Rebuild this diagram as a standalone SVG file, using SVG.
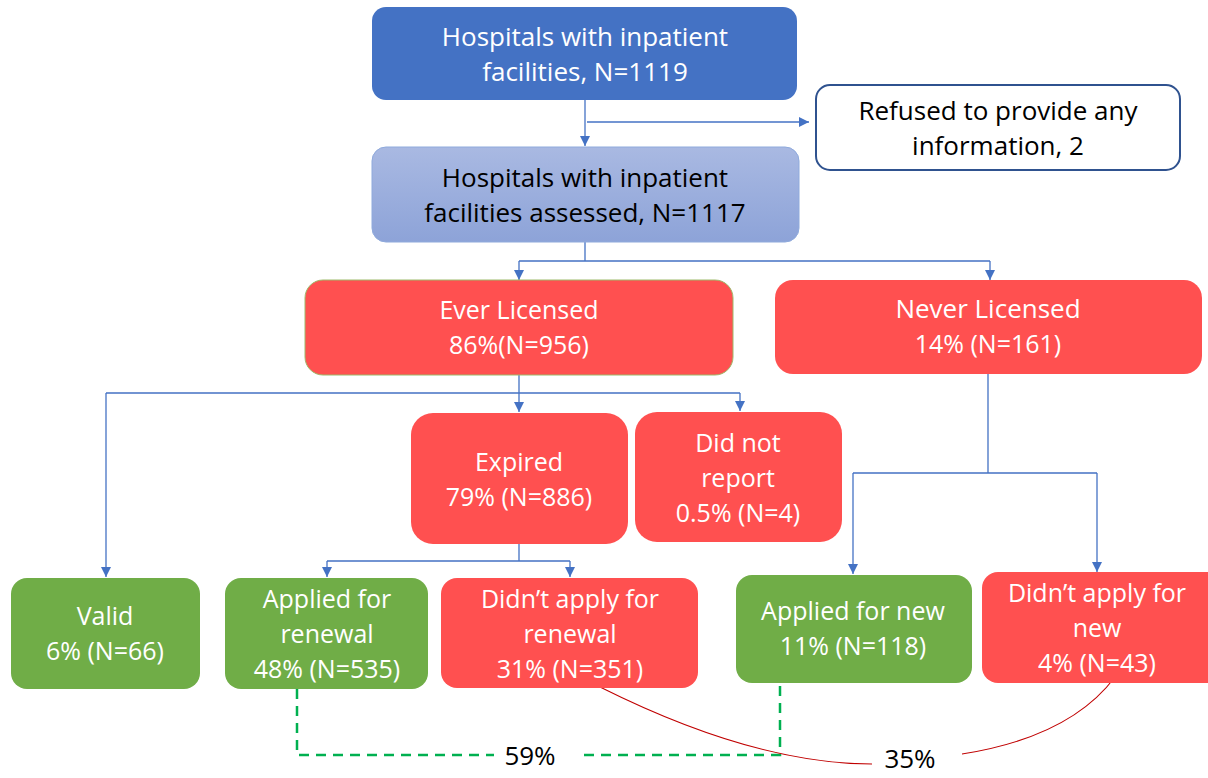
<svg xmlns="http://www.w3.org/2000/svg" width="1208" height="778" viewBox="0 0 1208 778">
<defs>
<linearGradient id="gAssess" x1="0" y1="0" x2="0" y2="1">
<stop offset="0" stop-color="#A9B9E2"/>
<stop offset="1" stop-color="#8DA3D8"/>
</linearGradient>
<marker id="arr" viewBox="0 0 10 10" refX="10" refY="5" markerWidth="10" markerHeight="10" markerUnits="userSpaceOnUse" orient="auto">
<path d="M0,0 L10,5 L0,10 Z" fill="#4472C4"/>
</marker>
<style>
.t{font-family:"Open Sans","Liberation Sans",sans-serif;font-size:25px;text-anchor:middle}
.b{font-size:26px}
.w{fill:#FFFFFF}
.k{fill:#000000}
.red{fill:#FF5050}
.grn{fill:#70AD47}
.con{fill:none;stroke:#4472C4;stroke-width:1.3}
.dash{fill:none;stroke:#00B050;stroke-width:2.5;stroke-dasharray:10 7}
.curve{fill:none;stroke:#C00000;stroke-width:1.1}
.pct{font-family:"Open Sans","Liberation Sans",sans-serif;font-size:26px;fill:#000;text-anchor:middle}
</style>
</defs>
<rect width="1208" height="778" fill="#FFFFFF"/>

<g id="connectors">
<path class="con" d="M585,100 V146" marker-end="url(#arr)"/>
<path class="con" d="M587,122 H809" marker-end="url(#arr)"/>
<path class="con" d="M585,242 V261 M519,261 H990"/>
<path class="con" d="M519,261 V280" marker-end="url(#arr)"/>
<path class="con" d="M990,261 V280" marker-end="url(#arr)"/>
<path class="con" d="M519,375 V393 M106,393 H740"/>
<path class="con" d="M519,393 V412" marker-end="url(#arr)"/>
<path class="con" d="M740,393 V411" marker-end="url(#arr)"/>
<path class="con" d="M106,393 V577" marker-end="url(#arr)"/>
<path class="con" d="M519,544 V561 M327,561 H570"/>
<path class="con" d="M327,561 V577" marker-end="url(#arr)"/>
<path class="con" d="M570,561 V577" marker-end="url(#arr)"/>
<path class="con" d="M988,374 V473 M853,473 H1097"/>
<path class="con" d="M853,473 V574" marker-end="url(#arr)"/>
<path class="con" d="M1097,473 V572" marker-end="url(#arr)"/>
<path class="dash" d="M297,689 V755 H494"/>
<path class="dash" d="M584,755 H780 V683"/>
<path class="curve" d="M600,687 Q754,764 872,764"/>
<path class="curve" d="M1115,677 Q1070,737 962,754"/>
</g>

<g id="n-top">
<rect x="372" y="7" width="425" height="93" rx="14" fill="#4472C4"/>
<text class="t b w" x="585" y="46">Hospitals with inpatient</text>
<text class="t b w" x="585" y="81">facilities, N=1119</text>
</g>

<g id="n-refused">
<rect x="816" y="85" width="364" height="85" rx="14" fill="#FFFFFF" stroke="#2F528F" stroke-width="2"/>
<text class="t b k" x="998" y="120">Refused to provide any</text>
<text class="t b k" x="998" y="155">information, 2</text>
</g>

<g id="n-assessed">
<rect x="372" y="147" width="427" height="95" rx="14" fill="url(#gAssess)" stroke="#8FAADC" stroke-width="1"/>
<text class="t b k" x="585" y="187">Hospitals with inpatient</text>
<text class="t b k" x="585" y="222">facilities assessed, N=1117</text>
</g>

<g id="n-ever">
<rect x="305" y="280" width="428" height="95" rx="18" class="red" stroke="#9DBA6A" stroke-width="1"/>
<text class="t w" x="519" y="319">Ever Licensed</text>
<text class="t w" x="519" y="354">86%(N=956)</text>
</g>

<g id="n-never">
<rect x="775" y="280" width="427" height="94" rx="18" class="red"/>
<text class="t b w" x="988" y="318">Never Licensed</text>
<text class="t w" x="988" y="353">14% (N=161)</text>
</g>

<g id="n-expired">
<rect x="411" y="413" width="217" height="131" rx="22" class="red"/>
<text class="t w" x="519" y="471">Expired</text>
<text class="t w" x="519" y="506">79% (N=886)</text>
</g>

<g id="n-didnotreport">
<rect x="635" y="412" width="207" height="130" rx="22" class="red"/>
<text class="t w" x="738" y="452">Did not</text>
<text class="t w" x="738" y="487">report</text>
<text class="t w" x="738" y="522">0.5% (N=4)</text>
</g>

<g id="n-valid">
<rect x="11" y="578" width="189" height="111" rx="16" class="grn"/>
<text class="t w" x="105" y="625">Valid</text>
<text class="t w" x="105" y="660">6% (N=66)</text>
</g>

<g id="n-applied-renewal">
<rect x="225" y="578" width="203" height="111" rx="16" class="grn"/>
<text class="t w" x="327" y="608">Applied for</text>
<text class="t w" x="327" y="643">renewal</text>
<text class="t w" x="327" y="678">48% (N=535)</text>
</g>

<g id="n-didnt-renewal">
<rect x="441" y="578" width="257" height="110" rx="16" class="red"/>
<text class="t w" x="570" y="608">Didn’t apply for</text>
<text class="t w" x="570" y="643">renewal</text>
<text class="t w" x="570" y="678">31% (N=351)</text>
</g>

<g id="n-applied-new">
<rect x="736" y="575" width="236" height="108" rx="16" class="grn"/>
<text class="t w" x="853" y="620">Applied for new</text>
<text class="t w" x="853" y="655">11% (N=118)</text>
</g>

<g id="n-didnt-new">
<rect x="982" y="572" width="240" height="111" rx="16" class="red"/>
<text class="t w" x="1097" y="602">Didn’t apply for</text>
<text class="t w" x="1097" y="637">new</text>
<text class="t w" x="1097" y="672">4% (N=43)</text>
</g>

<g id="labels">
<text class="pct" x="530" y="765">59%</text>
<text class="pct" x="910" y="768">35%</text>
</g>
</svg>
